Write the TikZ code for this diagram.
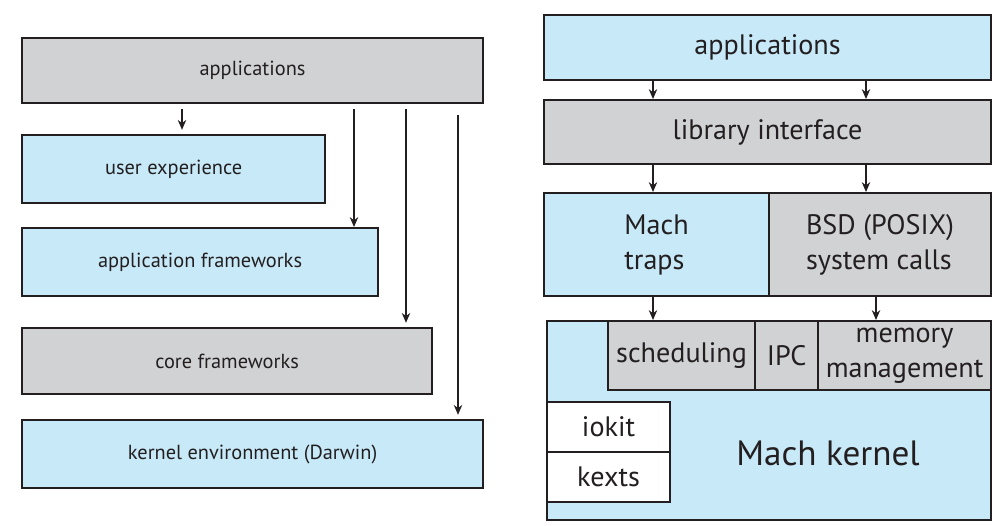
\documentclass[tikz,border=0pt]{standalone}
\usepackage{fontspec}
\setmainfont{PT Sans}
\usetikzlibrary{arrows.meta}
\newcommand{\pxu}{0.025cm}
\definecolor{layerblue}{HTML}{C7E9F8}
\definecolor{layergray}{HTML}{D1D2D4}
\definecolor{inkdark}{HTML}{231F20}
\tikzstyle{layer} = [draw=inkdark,line width=1.5pt,anchor=north west,inner sep=0pt,text=inkdark,align=center]
\tikzstyle{bluelayer} = [layer,fill=layerblue]
\tikzstyle{graylayer} = [layer,fill=layergray]
\tikzstyle{whitelayer} = [layer,fill=white]
\tikzstyle{arrow} = [line width=0.9pt,draw=inkdark,-{Stealth[length=7pt,width=6pt]}]
\tikzset{wh/.style 2 args={minimum width=#1*\pxu,minimum height=#2*\pxu}}
\newcommand{\lfont}{\fontsize{14.5}{17}\selectfont}
\newcommand{\rfont}{\fontsize{20}{25}\selectfont}

\begin{document}
\begin{tikzpicture}[x=\pxu,y=-\pxu]
        % \draw[step=50,gray,very thin] (0,0) grid (995,526);
        \useasboundingbox (0,0) rectangle (995,526);
        % left stack
        \node[graylayer,wh={461}{65},font=\lfont] (apps) at (21,37) {applications};
        \node[bluelayer,wh={303}{68},font=\lfont] (ux) at (21,134) {user experience};
        \node[bluelayer,wh={356}{68},font=\lfont] (appfw) at (21,227) {application frameworks};
        \node[graylayer,wh={410}{66},font=\lfont] (corefw) at (21,327) {core frameworks};
        \node[bluelayer,wh={461}{68},font=\lfont] (kernenv) at (21,419) {kernel environment (Darwin)};
        \draw[arrow,shorten <=3.5pt,shorten >=3pt] (apps.south -| 182,0) -- (ux.north -| 182,0);
        \draw[arrow,shorten <=3.5pt] (apps.south -| 354,0) -- (appfw.north -| 354,0);
        \draw[arrow,shorten <=3.5pt,shorten >=3pt] (apps.south -| 406,0) -- (corefw.north -| 406,0);
        \draw[arrow,shorten <=8pt,shorten >=3pt] (apps.south -| 458,0) -- (kernenv.north -| 458,0);
        % right stack
        \node[bluelayer,wh={447}{65},font=\rfont] (rapps) at (543,14) {applications};
        \node[graylayer,wh={447}{64},font=\rfont] (libif) at (543,99) {library interface};
        \node[bluelayer,wh={225}{103},font=\rfont,align=left] (traps) at (543,192) {Mach\\traps};
        \node[graylayer,wh={222}{103},font=\rfont,align=left] (bsd) at (768,192) {BSD (POSIX)\\system calls};
        \node[bluelayer,wh={444}{199}] (machk) at (546,320) {};
        \node[text=inkdark,font=\fontsize{25}{30}\selectfont] (machlabel) at (828,453) {Mach kernel};
        \node[graylayer,wh={147}{69},font=\rfont] (sched) at (607,320) {scheduling};
        \node[graylayer,wh={63}{69},font=\rfont] (ipc) at (754,320) {IPC};
        \node[graylayer,wh={173}{69},font=\rfont] (mem) at (817,320) {memory\\management};
        \node[whitelayer,wh={123}{50},font=\rfont] (iokit) at (546,401) {iokit};
        \node[whitelayer,wh={123}{50},font=\rfont] (kexts) at (546,451) {kexts};
        \draw[arrow] (rapps.south -| 653,0) -- (libif.north -| 653,0);
        \draw[arrow] (rapps.south -| 866,0) -- (libif.north -| 866,0);
        \draw[arrow] (libif.south -| 653,0) -- (traps.north -| 653,0);
        \draw[arrow] (libif.south -| 866,0) -- (bsd.north -| 866,0);
        \draw[arrow] (traps.south -| 653,0) -- (sched.north -| 653,0);
        \draw[arrow] (bsd.south -| 876,0) -- (mem.north -| 876,0);
\end{tikzpicture}
\end{document}
